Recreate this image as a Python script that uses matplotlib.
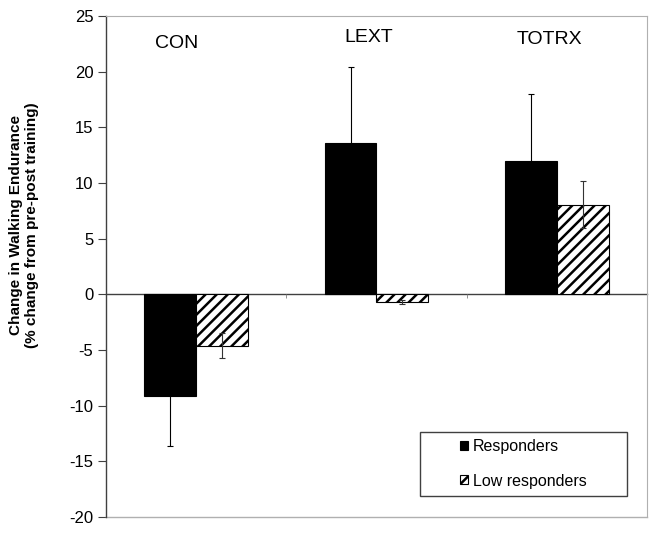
import matplotlib
matplotlib.use("Agg")
import matplotlib.pyplot as plt
import numpy as np
from matplotlib.lines import Line2D
from matplotlib.patches import Rectangle

plt.rcParams['font.family'] = ['Liberation Sans', 'DejaVu Sans']
plt.rcParams['hatch.linewidth'] = 1.8

categories = ["CON", "LEXT", "TOTRX"]
responders = [-9.1, 13.6, 12.0]
responders_err = [4.5, 6.8, 6.0]
low_responders = [-4.6, -0.7, 8.05]
low_responders_err = [1.1, 0.2, 2.1]
series_names = ["Responders", "Low responders"]
yticks = [-20, -15, -10, -5, 0, 5, 10, 15, 20, 25]

fig = plt.figure(figsize=(6.59, 5.33), dpi=100)
ax = fig.add_axes([106/659, 1-517/533, (647-106)/659, (517-16)/533])

x = np.arange(len(categories))
w = 0.288

b1 = ax.bar(x - w/2, responders, w, color='black', edgecolor='black', linewidth=0.8,
            label=series_names[0], zorder=2)
b2 = ax.bar(x + w/2, low_responders, w, color='white', edgecolor='black', linewidth=0.8,
            hatch='///', label=series_names[1], zorder=2)
ax.errorbar(x - w/2, responders, yerr=responders_err, fmt='none', ecolor='black',
            elinewidth=0.8, capsize=2.2, capthick=0.8, zorder=3)
ax.errorbar(x + w/2, low_responders, yerr=low_responders_err, fmt='none', ecolor='#333333',
            elinewidth=0.8, capsize=2.2, capthick=0.8, zorder=3)

ax.set_xlim(-0.5, len(categories) - 0.5)
ax.set_ylim(yticks[0], yticks[-1])
ax.set_yticks(yticks)
ax.set_yticklabels([str(t) for t in yticks], fontsize=12)
ax.tick_params(axis='y', direction='out', length=6, width=0.8, color='#404040', pad=3)

# bottom spine acts as the zero category axis
ax.spines['bottom'].set_position(('data', 0))
ax.spines['bottom'].set_color('#404040')
ax.spines['bottom'].set_linewidth(1.0)
ax.spines['bottom'].set_zorder(1)
ax.set_xticks(x[:-1] + 0.5)
ax.set_xticklabels([])
ax.tick_params(axis='x', direction='out', length=3, width=0.6, color='#808080')
ax.spines['left'].set_color('#404040')
ax.spines['left'].set_linewidth(1.0)
ax.spines['top'].set_color('#b0b0b0')
ax.spines['right'].set_color('#b0b0b0')
ax.add_line(Line2D([0, 1], [0, 0], transform=ax.transAxes, color='#b0b0b0',
                   linewidth=1.0, clip_on=False))

# category labels
label_pos = [(-0.11, 22.5), (0.955, 23.1), (1.96, 22.9)]
for name, (lx, ly) in zip(categories, label_pos):
    ax.text(lx, ly, name, ha='center', va='center', fontsize=14)

fig.text(24/659, 1-225/533, "Change in Walking Endurance\n(% change from pre-post training)",
         rotation=90, ha='center', va='center', fontsize=11, fontweight='bold',
         multialignment='center', linespacing=1.15)

# legend box (frame drawn separately so it can be wider than its content)
bx0, bx1 = (420-106)/541, (627-106)/541
by0, by1 = (517-496)/501, (517-432)/501
ax.add_patch(Rectangle((bx0, by0), bx1 - bx0, by1 - by0, transform=ax.transAxes,
                       facecolor='white', edgecolor='#404040', linewidth=1.0, zorder=4))
leg = ax.legend(loc='center', bbox_to_anchor=((bx0 + bx1)/2, (by0 + by1)/2),
                fontsize=11.5, frameon=False,
                handlelength=0.5, handleheight=0.5, handletextpad=0.3,
                borderpad=0.3, labelspacing=1.2, borderaxespad=0.0)
leg.set_zorder(5)

fig.savefig("out.png", dpi=100)
